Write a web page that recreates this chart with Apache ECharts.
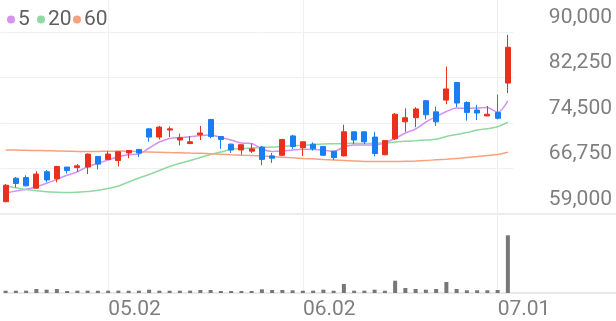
<!DOCTYPE html>
<html><head><meta charset="utf-8">
<script src="https://cdn.jsdelivr.net/npm/echarts@6/dist/echarts.min.js"></script>
<style>html,body{margin:0;padding:0;background:#fff}#c{width:616px;height:321px}</style>
</head><body><div id="c"></div>
<script>
const dates = ['04.17','04.18','04.21','04.22','04.23','04.24','04.25','04.28','04.29','04.30',
  '05.02','05.07','05.08','05.09','05.12','05.13','05.14','05.15','05.16','05.19',
  '05.20','05.21','05.22','05.23','05.26','05.27','05.28','05.29','05.30','06.02',
  '06.04','06.05','06.09','06.10','06.11','06.12','06.13','06.16','06.17','06.18',
  '06.19','06.20','06.23','06.24','06.25','06.26','06.27','06.30','07.01','07.02'];
const opens  = [61100,65100,65200,63400,66200,65000,67000,66900,67000,68800,
  68300,68100,69400,70000,73500,72100,73300,71600,71000,72500,
  75100,72200,70900,69900,69700,70400,68900,69000,72300,70300,
  70900,70500,69700,68900,73000,73000,72100,69100,71800,74700,
  75400,78300,76400,78400,81400,78000,76700,75700,76300,81300];
const closes = [63900,64200,63800,65800,64800,67100,66400,67200,69200,67500,
  69200,69600,69800,69400,72100,73800,73500,72000,71300,72800,
  72200,71700,69900,70800,70100,68300,68500,71700,70500,71300,
  70100,69000,68600,73000,71600,71300,69300,71500,76000,75400,
  76900,75900,74700,80300,77900,76300,76200,76000,75300,87400];
const lows   = [61000,63500,63700,63300,64400,64400,65900,66200,65800,66600,
  68300,67100,68500,68700,71300,71700,72100,70700,70900,71600,
  71900,70100,69400,69100,69400,67300,67700,68900,70100,68900,
  69800,68900,68200,68800,70900,70900,68800,69000,71600,73000,
  73800,75100,74000,77700,77200,74900,75000,75700,75100,79600];
const highs  = [64100,65300,65600,66300,66500,67200,67000,67500,69300,68900,
  69700,69700,69900,70000,73600,74000,73900,72700,72300,74000,
  75200,72200,71000,70800,71000,70600,69400,71800,72500,71300,
  71200,70600,69700,74200,73000,73000,73000,71500,76200,77000,
  77200,78400,77300,84100,81500,78200,77600,77400,79300,89500];
const volumes = [79000,78000,80000,137000,113000,136000,68000,79000,80000,78000,
  79000,80000,78000,79000,113000,80000,78000,79000,80000,103000,
  102000,68000,69000,68000,70000,126000,103000,102000,92000,79000,
  80000,113000,78000,308000,79000,80000,112000,79000,420000,171000,
  137000,113000,136000,376000,137000,92000,93000,92000,103000,1972000];
const ma5  = [62600,62900,63200,63650,64230,64910,65590,66200,67060,67640,
  68200,68760,69100,69220,70240,71260,71860,72030,72170,72370,
  72460,72030,71600,71090,71010,70070,69650,69730,69900,70020,
  69990,69900,69650,70410,70750,70750,70750,71180,71860,72800,
  73480,74670,75610,76460,77050,77000,77050,77140,76290,78250];
const ma20 = [63770,63480,63170,62950,62780,62700,62660,62710,62820,63050,
  63340,63770,64450,65130,65730,66410,67090,67640,68110,68620,
  69130,69560,69990,70160,70240,70330,70410,70530,70620,70720,
  70840,70920,70960,71010,71040,71010,71040,71090,71260,71400,
  71490,71600,71720,72200,72540,72880,73310,73530,73870,74620];
const ma60 = [69900,69880,69850,69820,69780,69730,69700,69660,69650,69660,
  69700,69710,69700,69650,69560,69510,69460,69420,69370,69340,
  69250,69170,69080,69020,68950,68880,68780,68670,68560,68470,
  68390,68280,68200,68110,68030,67960,67930,67930,67940,67980,
  68030,68110,68230,68330,68450,68610,68780,68960,69130,69510];
const priceTicks = [59000, 66750, 74500, 82250, 90000];
const dateLabels = ['05.02', '06.02', '07.01'];
const maNames = ['5', '20', '60'];
const maColors = ['#d592ef', '#8fd9a2', '#f7a27c'];

const upColor = '#e8301c', downColor = '#1a7ef0';
const candleData = dates.map((d, i) => [opens[i], closes[i], lows[i], highs[i]]);
const showDate = (idx) => dateLabels.indexOf(dates[idx]) >= 0;
const fmt = (v) => v.toLocaleString('en-US');

const chart = echarts.init(document.getElementById('c'), null, {renderer: 'canvas'});
const gridL = 0.5, gridR = 103;
const legends = maNames.map((n, k) => ({
  data: [n], left: [2, 32, 68][k], top: 4, icon: 'circle', itemWidth: 8, itemHeight: 8,
  itemGap: 0, selectedMode: false,
  textStyle: {fontSize: 21, color: '#5f5f5f', fontFamily: 'Roboto', padding: [0, 0, 0, -2]}
}));
const maSeries = [ma5, ma20, ma60].map((arr, k) => ({
  name: maNames[k], type: 'line', xAxisIndex: 0, yAxisIndex: 0, data: arr,
  smooth: 0.3, symbol: 'none', lineStyle: {width: 1.5, color: maColors[k]},
  itemStyle: {color: maColors[k]}, z: 3
}));
chart.setOption({
  animation: false,
  backgroundColor: '#fff',
  legend: legends,
  grid: [
    {left: gridL, right: gridR, top: 32, height: 182},
    {left: gridL, right: gridR, top: 214, height: 79},
    {left: gridL, right: gridR, top: 0, height: 293}
  ],
  xAxis: [
    {type: 'category', gridIndex: 0, data: dates, boundaryGap: true, show: false},
    {type: 'category', gridIndex: 1, data: dates, boundaryGap: true, show: false},
    {type: 'category', gridIndex: 2, data: dates, boundaryGap: true,
      axisLine: {show: false}, axisTick: {show: false},
      axisLabel: {interval: (i) => showDate(i), align: 'left', margin: 6,
        fontSize: 21, color: '#7f7f7f', fontFamily: 'Roboto'},
      splitLine: {show: true, interval: (i) => showDate(i), alignWithLabel: true,
        lineStyle: {color: '#efefef', width: 1}}}
  ],
  yAxis: [
    {type: 'value', gridIndex: 0, position: 'right', min: priceTicks[0],
      max: priceTicks[priceTicks.length - 1], interval: priceTicks[1] - priceTicks[0],
      axisLine: {show: false}, axisTick: {show: false},
      axisLabel: {formatter: fmt, align: 'right', margin: 99, verticalAlign: 'bottom',
        padding: [0, 0, 4, 0], fontSize: 21, color: '#7f7f7f', fontFamily: 'Roboto'},
      splitLine: {show: true, showMinLine: false, lineStyle: {color: '#f0f0f0', width: 1}}},
    {type: 'value', gridIndex: 1, min: 0, max: 2700000, show: false, splitLine: {show: false}},
    {type: 'value', gridIndex: 2, show: false, splitLine: {show: false}}
  ],
  graphic: [
    {type: 'line', shape: {x1: 0, y1: 214, x2: 616, y2: 214}, style: {stroke: '#e6e6e6', lineWidth: 1.5}, z: 0},
    {type: 'line', shape: {x1: 3, y1: 293, x2: 616, y2: 293}, style: {stroke: '#e2e2e2', lineWidth: 1.5}, z: 0}
  ],
  series: [
    {type: 'candlestick', name: 'price', xAxisIndex: 0, yAxisIndex: 0, data: candleData,
      barWidth: 5.5,
      itemStyle: {color: upColor, color0: downColor, borderColor: upColor, borderColor0: downColor, borderWidth: 1},
      z: 4},
    ...maSeries,
    {type: 'bar', name: 'volume', xAxisIndex: 1, yAxisIndex: 1, data: volumes, barWidth: 4,
      itemStyle: {color: '#777777'}}
  ]
});
</script>
</body></html>
